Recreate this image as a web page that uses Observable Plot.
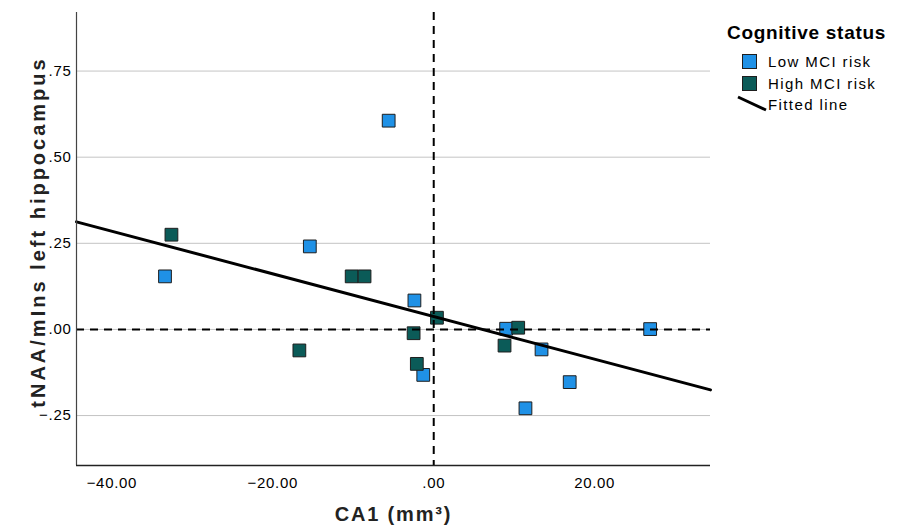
<!DOCTYPE html>
<html><head><meta charset="utf-8">
<script src="https://cdn.jsdelivr.net/npm/d3@7"></script>
<script src="https://cdn.jsdelivr.net/npm/@observablehq/plot@0.6"></script>
<style>
body{margin:0;background:#fff;font-family:"Liberation Sans",Arial,sans-serif;}
#wrap{position:relative;width:899px;height:531px;}
#legend{position:absolute;left:0;top:0;width:899px;height:531px;pointer-events:none;}
#legend .title{position:absolute;left:727px;top:22px;font-weight:bold;font-size:19px;letter-spacing:0.7px;color:#000;white-space:nowrap;}
#legend .item{position:absolute;left:768px;font-size:15px;letter-spacing:1.4px;color:#000;white-space:nowrap;}
#legend .sw{position:absolute;left:742px;width:13px;height:13px;border:1px solid #1e1e1e;}
</style></head><body><div id="wrap"></div>
<script>
const groups = ["Low MCI risk", "High MCI risk"];
const groupColors = ["#1f91e6", "#0b5b58"];
const lowX = [-5.6, -33.4, -15.4, -2.4, -1.3, 9.0, 13.4, 16.9, 11.4, 26.9];
const lowY = [0.606, 0.154, 0.241, 0.084, -0.132, 0.002, -0.058, -0.153, -0.229, 0.001];
const highX = [-32.6, -10.2, -8.6, -16.7, -2.5, -2.1, 0.4, 10.5, 8.8];
const highY = [0.275, 0.154, 0.154, -0.061, -0.011, -0.100, 0.034, 0.005, -0.047];
const xTicks = [-40, -20, 0, 20];
const yTicks = [-0.25, 0, 0.25, 0.5, 0.75];
const xDomain = [-44.4, 34.4];
const yDomain = [-0.395, 0.92];
const xLabel = "CA1 (mm³)";
const yLabel = "tNAA/mIns left hippocampus";
const fitLabel = "Fitted line";
const legendTitle = "Cognitive status";

const points = [
  ...lowX.map((x, i) => ({x, y: lowY[i], g: groups[0]})),
  ...highX.map((x, i) => ({x, y: highY[i], g: groups[1]}))
];
// ordinary least squares fit over all points
const mx = d3.mean(points, d => d.x), my = d3.mean(points, d => d.y);
const slope = d3.sum(points, d => (d.x - mx) * (d.y - my)) / d3.sum(points, d => (d.x - mx) ** 2);
const intercept = my - slope * mx;
const fit = xDomain.map(x => ({x, y: intercept + slope * x}));

const fmtX = d => d === 0 ? ".00" : d3.format(".2f")(d);
const fmtY = d => d === 0 ? ".00" : d3.format(".2f")(d).replace("0.", ".");

const chart = Plot.plot({
  width: 899, height: 531,
  marginLeft: 76, marginRight: 189, marginTop: 12, marginBottom: 66,
  style: {fontFamily: "'Liberation Sans', Arial, sans-serif", fontSize: "15px", color: "#000", background: "#fff"},
  x: {domain: xDomain, ticks: xTicks, tickFormat: fmtX},
  y: {domain: yDomain, ticks: yTicks, tickFormat: fmtY},
  color: {domain: groups, range: groupColors},
  marks: [
    Plot.ruleY(yTicks, {stroke: "#c4c4c4", strokeWidth: 1}),
    Plot.axisX({ticks: xTicks, tickFormat: fmtX, tickSize: 0, tickPadding: 12, label: null, fontSize: 15}),
    Plot.axisY({ticks: yTicks, tickFormat: fmtY, tickSize: 0, tickPadding: 5, label: null, fontSize: 15}),
    Plot.dot(points, {x: "x", y: "y", symbol: "square", r: 7.2, fill: "g", stroke: "#1e1e1e", strokeWidth: 1, fillOpacity: 1}),
    Plot.ruleY([0], {stroke: "#000", strokeWidth: 2, strokeDasharray: "8,6"}),
    Plot.ruleX([0], {stroke: "#000", strokeWidth: 2, strokeDasharray: "8,6"}),
    Plot.line(fit, {x: "x", y: "y", stroke: "#000", strokeWidth: 3}),
    Plot.ruleX([xDomain[0]], {stroke: "#444", strokeWidth: 1.2}),
    Plot.ruleY([yDomain[0]], {stroke: "#222", strokeWidth: 1.5}),
    Plot.text([xLabel], {frameAnchor: "bottom", dy: 55, fontWeight: "bold", fontSize: 20, fill: "#222"}),
    Plot.text([yLabel], {frameAnchor: "left", textAnchor: "middle", dx: -38, dy: -7, rotate: -90, fontWeight: "bold", fontSize: 20, fill: "#222"})
  ]
});
d3.select(chart).selectAll("text").each(function() {
  const t = this.textContent;
  if (t === xLabel) this.setAttribute("letter-spacing", "1.8");
  else if (t === yLabel) this.setAttribute("letter-spacing", "3.0");
  else this.setAttribute("letter-spacing", "0.7");
});
const wrap = document.getElementById("wrap");
wrap.appendChild(chart);

const legend = document.createElement("div");
legend.id = "legend";
legend.innerHTML = `
  <div class="title">${legendTitle}</div>
  <div class="sw" style="top:54px;background:${groupColors[0]}"></div>
  <div class="item" style="top:53px">${groups[0]}</div>
  <div class="sw" style="top:76px;background:${groupColors[1]}"></div>
  <div class="item" style="top:75px">${groups[1]}</div>
  <svg style="position:absolute;left:735px;top:94px" width="34" height="20"><line x1="3" y1="3" x2="31" y2="16" stroke="#000" stroke-width="3"/></svg>
  <div class="item" style="top:96px">${fitLabel}</div>`;
wrap.appendChild(legend);
</script>
</body></html>
